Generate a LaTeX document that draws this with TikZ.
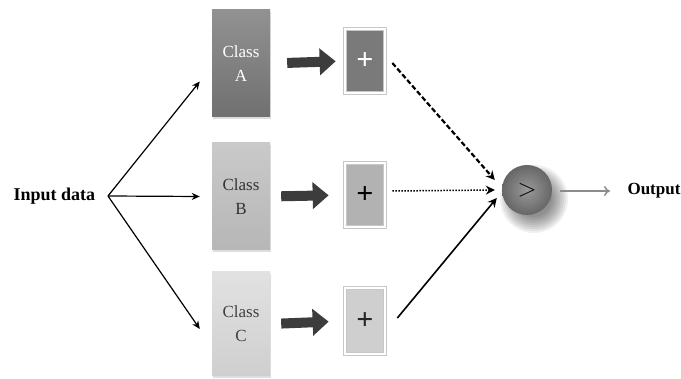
\documentclass[tikz,border=0pt]{standalone}
\usepackage{fontspec}
\setmainfont{Liberation Serif}
\usetikzlibrary{arrows.meta,shadows}

\definecolor{clsA}{HTML}{767676}
\definecolor{clsB}{HTML}{C0C0C0}
\definecolor{clsC}{HTML}{DADADA}
\definecolor{plsA}{HTML}{7A7A7A}
\definecolor{plsB}{HTML}{B2B2B2}
\definecolor{plsC}{HTML}{CFCFCF}
\definecolor{fatgray}{HTML}{3C3C3C}

\begin{document}
\begin{tikzpicture}[x=1pt,y=-1pt,
  classbox/.style={minimum width=58pt, minimum height=107pt, inner sep=0pt, align=center,
    font=\fontsize{17}{24}\selectfont, drop shadow={shadow xshift=1pt, shadow yshift=-2pt, fill=black!25}},
  plusbox/.style={minimum width=40pt, minimum height=64pt, inner sep=0pt, draw=black!22, line width=0.7pt,
    double=white, double distance=2.5pt,
    font=\fontsize{30}{30}\selectfont\bfseries, drop shadow={shadow xshift=1.5pt, shadow yshift=-2pt, fill=black!30}},
  fat/.style={line width=10pt, fatgray, -{Triangle[length=16pt,width=26pt]}},
  thin/.style={line width=1.2pt, -{Stealth[length=8pt,width=7pt,inset=2.5pt]}}]

\useasboundingbox[fill=white] (0,0) rectangle (681,379);

\node[font=\fontsize{18}{18}\selectfont\bfseries, anchor=west] (input) at (10,196) {Input data};
\coordinate (fork) at (108,196);

\node[classbox, top color=clsA!80, bottom color=clsA!95!black, text=white] (classA) at (241,63.5) {Class\\A};
\node[classbox, top color=clsB!85, bottom color=clsB!95!black, text=black!80] (classB) at (241,196.5) {Class\\B};
\node[classbox, top color=clsC!80, bottom color=clsC!95!black, text=black!75, minimum height=104pt] (classC) at (241,324) {Class\\C};

\node[plusbox, fill=plsA, text=white] (plusA) at (365,61) {+};
\node[plusbox, fill=plsB, text=black] (plusB) at (365,195) {+};
\node[plusbox, fill=plsC, text=black!85, minimum height=66pt] (plusC) at (365,321) {+};

% soft shadow under the comparator
\coordinate (shd) at (534,199);
\foreach \r in {34,32,...,18}
  \fill[black, opacity=0.06] (shd) circle (\r);

\node[circle, minimum size=50pt, inner sep=0pt, inner color=black!40, outer color=black!60,
  font=\fontsize{24}{24}\selectfont] (cmp) at (527,190) {$>$};

\node[font=\fontsize{17}{17}\selectfont\bfseries, anchor=west] (output) at (624,191) {Output};

\draw[thin] (fork) -- ([xshift=-12pt,yshift=-18pt]classA.west);
\draw[thin] (fork) -- ([xshift=-12pt]classB.west);
\draw[thin] (fork) -- ([xshift=-12pt,yshift=-5pt]classC.west);

\draw[fat, shorten <=17pt, shorten >=9pt] (classA.east) -- (plusA.west);
\draw[fat, shorten <=11pt, shorten >=16pt] (classB.east) -- (plusB.west);
\draw[fat, shorten <=11pt, shorten >=16pt] (classC.east) -- (plusC.west);

\draw[line width=2.2pt, dash pattern=on 5pt off 2.5pt, -{Stealth[length=9pt,width=9pt,inset=3pt]}]
  ([xshift=7pt,yshift=-2pt]plusA.east) -- ([xshift=-7pt,yshift=10pt]cmp.west);
\draw[line width=1.5pt, dash pattern=on 1.5pt off 1.5pt, -{Stealth[length=9pt,width=9pt,inset=3pt]}]
  ([xshift=7pt,yshift=4pt]plusB.east) -- ([xshift=-7pt]cmp.west);
\draw[line width=1.6pt, -{Stealth[length=9pt,width=9pt,inset=3pt]}]
  ([xshift=12pt,yshift=3pt]plusC.east) -- ([xshift=-5pt,yshift=-8pt]cmp.west);

\draw[line width=1.5pt, black!45, -{To[length=6pt,width=10pt]}] ([xshift=8pt,yshift=-1pt]cmp.east) -- ([xshift=-14pt]output.west);

\end{tikzpicture}
\end{document}
